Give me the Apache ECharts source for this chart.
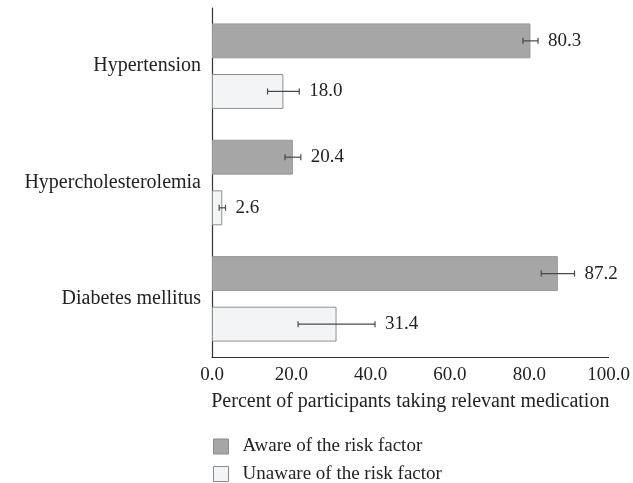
<!DOCTYPE html>
<html>
<head>
<meta charset="utf-8">
<script src="https://cdn.jsdelivr.net/npm/echarts@6/dist/echarts.min.js"></script>
<style>html,body{margin:0;padding:0;background:#fff;}#c{width:633px;height:483px;}</style>
</head>
<body>
<div id="c"></div>
<script>
const categories = ['Hypertension', 'Hypercholesterolemia', 'Diabetes mellitus'];
const seriesNames = ['Aware of the risk factor', 'Unaware of the risk factor'];
const awareValues = [80.3, 20.4, 87.2];
const unawareValues = [18.0, 2.6, 31.4];
const awareErrors = [1.9, 2.0, 4.2];
const unawareErrors = [4.0, 0.8, 9.7];
const xTicks = [0, 20, 40, 60, 80, 100];

const FONT = '"Liberation Serif", "Times New Roman", serif';
const BAR_W = 0.30, BAR_GAP = 0.45;
const AWARE_STYLE = { color: '#a6a6a6', borderColor: '#9a9a9a', borderWidth: 1 };
const UNAWARE_STYLE = { color: '#f3f4f6', borderColor: '#8f8f8f', borderWidth: 1 };

function errSeries(values, errors, sign) {
  return {
    type: 'custom',
    z: 5,
    silent: true,
    data: values.map((v, i) => [v, i, errors[i]]),
    renderItem: function (params, api) {
      const v = api.value(0), ci = api.value(1), e = api.value(2);
      const bandH = api.size([0, 1])[1];
      const w = bandH * BAR_W;
      const off = sign * (w + w * BAR_GAP) / 2;
      const c = api.coord([v, ci]);
      const y = c[1] + off;
      const lo = api.coord([v - e, ci])[0];
      const hi = api.coord([v + e, ci])[0];
      const cap = 3;
      const st = { stroke: '#4a4a4a', lineWidth: 1.2 };
      return {
        type: 'group',
        children: [
          { type: 'line', shape: { x1: lo, y1: y, x2: hi, y2: y }, style: st },
          { type: 'line', shape: { x1: lo, y1: y - cap, x2: lo, y2: y + cap }, style: st },
          { type: 'line', shape: { x1: hi, y1: y - cap, x2: hi, y2: y + cap }, style: st },
          { type: 'text', style: { x: hi + 10, y: y, text: v.toFixed(1), fill: '#222', font: '19px ' + FONT, textAlign: 'left', textVerticalAlign: 'middle' } }
        ]
      };
    }
  };
}

function legendFor(name, style, top) {
  return {
    orient: 'vertical', left: 213, top: top, padding: 0, itemWidth: 15, itemHeight: 15,
    icon: 'rect',
    textStyle: { fontFamily: FONT, fontSize: 19, lineHeight: 21, color: '#222', padding: [0, 0, 0, 9] },
    data: [{ name: name, itemStyle: Object.assign({}, style, { borderColor: '#8a8a8a' }) }]
  };
}

const chart = echarts.init(document.getElementById('c'));
chart.setOption({
  animation: false,
  backgroundColor: '#fff',
  textStyle: { fontFamily: FONT },
  grid: { left: 212, right: 21, top: 8, bottom: 126, containLabel: false },
  legend: [
    legendFor(seriesNames[0], AWARE_STYLE, 436),
    legendFor(seriesNames[1], UNAWARE_STYLE, 463.5)
  ],
  xAxis: {
    type: 'value', min: 0, max: 100, interval: 20,
    name: 'Percent of participants taking relevant medication',
    nameLocation: 'middle', nameGap: 35,
    nameTextStyle: { fontFamily: FONT, fontSize: 20, color: '#222' },
    axisLine: { show: true, lineStyle: { color: '#333', width: 1 } },
    axisTick: { show: false },
    splitLine: { show: false },
    axisLabel: { fontFamily: FONT, fontSize: 19, color: '#222', margin: 9,
      formatter: v => xTicks.includes(v) ? v.toFixed(1) : '' }
  },
  yAxis: {
    type: 'category', inverse: true, data: categories,
    axisLine: { show: true, lineStyle: { color: '#333', width: 1.2 } },
    axisTick: { show: false },
    axisLabel: { fontFamily: FONT, fontSize: 20, color: '#222', margin: 11 }
  },
  series: [
    { name: seriesNames[0], type: 'bar', data: awareValues, barWidth: (BAR_W * 100) + '%', barGap: (BAR_GAP * 100) + '%',
      itemStyle: AWARE_STYLE },
    { name: seriesNames[1], type: 'bar', data: unawareValues, barWidth: (BAR_W * 100) + '%', barGap: (BAR_GAP * 100) + '%',
      itemStyle: UNAWARE_STYLE },
    Object.assign(errSeries(awareValues, awareErrors, -1), { name: 'errA' }),
    Object.assign(errSeries(unawareValues, unawareErrors, 1), { name: 'errU' })
  ]
});
</script>
</body>
</html>
